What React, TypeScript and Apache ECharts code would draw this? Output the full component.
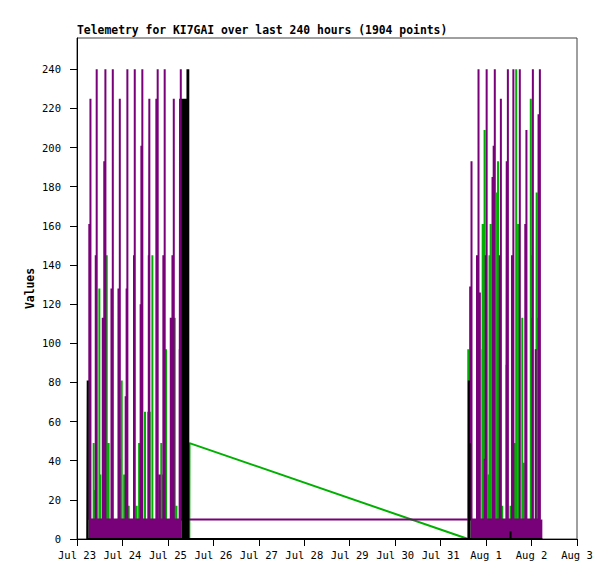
import React, { useEffect, useRef } from "react";
import * as echarts from "echarts";

// x values are hours since Jul 23 00:00
const xTickLabels = ["Jul 23", "Jul 24", "Jul 25", "Jul 26", "Jul 27", "Jul 28", "Jul 29", "Jul 30", "Jul 31", "Aug 1", "Aug 2", "Aug 3"];
const yTickValues = [0, 20, 40, 60, 80, 100, 120, 140, 160, 180, 200, 220, 240];

const titleText = "Telemetry for KI7GAI over last 240 hours (1904 points)";
const yAxisName = "Values";

// purple series: spikes above a base of 10 [hour, value]
const purpleSpikes: [number, number][] = [
  [6.5, 161], [7.1, 225], [9.9, 145], [10.4, 240], [13.6, 113], [14.4, 193], [15.0, 240],
  [18.2, 128], [18.9, 240], [21.9, 128], [22.6, 225], [25.7, 73], [26.2, 128], [26.6, 240],
  [30.1, 145], [30.5, 240], [33.6, 120], [34.0, 201], [34.5, 240], [37.9, 145], [38.2, 225],
  [41.9, 225], [42.6, 240], [43.7, 33], [45.6, 145], [46.3, 240], [49.5, 113], [50.4, 145],
  [51.1, 225], [54.2, 97], [54.4, 225], [54.8, 240],
  [207.6, 129], [208.3, 193], [211.2, 145], [212.0, 240], [212.7, 126], [215.3, 41], [215.8, 145],
  [216.3, 240], [219.4, 185], [220.0, 201], [220.6, 240], [223.2, 145], [223.8, 225], [226.7, 89],
  [226.9, 193], [227.5, 240], [229.7, 145], [230.4, 240], [233.8, 240], [236.7, 161], [237.3, 209],
  [240.5, 145], [240.7, 240], [242.2, 97], [243.7, 217], [244.4, 240],
];
const purpleBase = 10;
const purpleBlockLeft: [number, number][] = [[6.2, 10], [55.1, 10]];
const purpleBlockRight: [number, number][] = [[207.9, 10], [245.7, 10]];

// green series: spikes above 0 [hour, value]
const greenSpikesLeft: [number, number][] = [
  [8.8, 49], [9.6, 25], [11.8, 128], [12.3, 33], [15.7, 145], [16.7, 49], [23.3, 41], [23.6, 81],
  [24.9, 33], [27.3, 17], [31.5, 17], [32.8, 49], [35.9, 65], [37.6, 65], [38.4, 65], [39.8, 145],
  [43.7, 25], [44.5, 49], [45.4, 33], [47.0, 97], [51.6, 113], [52.5, 17],
];
const greenGap: [number, number][] = [[59.3, 0], [59.4, 49], [206.5, 0]];
const greenSpikesRight: [number, number][] = [
  [206.6, 97], [214.0, 97], [214.2, 161], [215.2, 209], [217.4, 33], [217.8, 145], [218.4, 161],
  [221.8, 177], [222.3, 193], [224.5, 17], [228.9, 17], [231.0, 49], [231.9, 240], [233.0, 161],
  [235.1, 113], [235.9, 39], [239.6, 225], [240.1, 113], [242.5, 97], [242.7, 177], [243.8, 113],
];

// black series
const blackSpikes: [number, number][] = [[5.65, 81], [206.9, 81], [207.3, 49], [228.9, 4]];
const blackStart = 5.4;
const blackEnd = 245.7;
const blackBlock: [number, number][] = [[55.1, 225], [57.8, 225], [57.8, 240], [59.3, 240]];

const PURPLE = "#780078";
const GREEN = "#00b000";
const BLACK = "#000000";
const MONO = "'DejaVu Sans Mono', 'Liberation Mono', monospace";

function spikeLine(spikes: [number, number][], base: number): [number, number][] {
  const out: [number, number][] = [];
  [...spikes].sort((a, b) => a[0] - b[0]).forEach(([h, v]) => {
    out.push([h, base], [h, v], [h, base]);
  });
  return out;
}

export default function App() {
  const ref = useRef<HTMLDivElement>(null);
  useEffect(() => {
    if (!ref.current) return;
    const chart = echarts.init(ref.current, null, { renderer: "svg" });

    const purpleData = spikeLine(purpleSpikes, purpleBase);
    const greenData = [
      ...spikeLine(greenSpikesLeft, 0),
      ...greenGap,
      ...spikeLine(greenSpikesRight, 0),
    ];
    const blackData: [number, number][] = [
      [blackStart, 0],
      ...spikeLine(blackSpikes, 0),
      [blackEnd, 0],
    ].sort((a, b) => a[0] - b[0]) as [number, number][];

    const base = {
      type: "line" as const,
      showSymbol: false,
      symbol: "none",
      silent: true,
      animation: false,
    };

    chart.setOption({
      animation: false,
      backgroundColor: "#ffffff",
      title: {
        text: titleText,
        left: 77,
        top: 23,
        padding: 0,
        textStyle: {
          fontFamily: MONO,
          fontWeight: "bold",
          fontSize: 11.4,
          color: "#000",
          lineHeight: 14,
        },
      },
      grid: {
        left: 77,
        right: 38,
        top: 38,
        bottom: 40,
        show: true,
        borderColor: "#404040",
        borderWidth: 1,
      },
      xAxis: {
        type: "value",
        min: 0,
        max: 264,
        interval: 24,
        axisLine: { show: true, onZero: false, lineStyle: { color: "#000", width: 1 } },
        axisTick: { show: true, length: 7, lineStyle: { color: "#000" } },
        axisLabel: {
          formatter: (v: number) => xTickLabels[Math.round(v / 24)] ?? "",
          margin: 10,
          color: "#000",
          fontFamily: MONO,
          fontSize: 10.5,
        },
        splitLine: { show: false },
      },
      yAxis: {
        type: "value",
        min: 0,
        max: 256,
        interval: 20,
        name: yAxisName,
        nameLocation: "middle",
        nameRotate: 90,
        nameGap: 42,
        nameMoveOverlap: false,
        nameTextStyle: { fontFamily: MONO, fontWeight: "bold", fontSize: 11.4, color: "#000" },
        axisLine: { show: true, onZero: false, lineStyle: { color: "#000", width: 1 } },
        axisTick: { show: true, length: 7, lineStyle: { color: "#000" }, customValues: yTickValues },
        axisLabel: {
          customValues: yTickValues,
          formatter: (v: number) => (v % 20 === 0 && v <= 240 ? String(v) : ""),
          margin: 16,
          color: "#000",
          fontFamily: MONO,
          fontSize: 10.5,
        },
        splitLine: { show: false },
      },
      series: [
        { ...base, name: "green", data: greenData, z: 2, lineStyle: { color: GREEN, width: 2 } },
        {
          ...base, name: "purpleBlockL", data: purpleBlockLeft, z: 3,
          lineStyle: { color: PURPLE, width: 0 }, areaStyle: { color: PURPLE, opacity: 1 },
        },
        {
          ...base, name: "purpleBlockR", data: purpleBlockRight, z: 3,
          lineStyle: { color: PURPLE, width: 0 }, areaStyle: { color: PURPLE, opacity: 1 },
        },
        { ...base, name: "purple", data: purpleData, z: 3, lineStyle: { color: PURPLE, width: 2 } },
        {
          ...base, name: "blackBlock", data: blackBlock, z: 4,
          lineStyle: { color: BLACK, width: 0 }, areaStyle: { color: BLACK, opacity: 1 },
        },
        { ...base, name: "black", data: blackData, z: 4, lineStyle: { color: BLACK, width: 2 } },
      ],
    });
    return () => chart.dispose();
  }, []);

  return (
    <div
      ref={ref}
      style={{ position: "absolute", left: 0, top: 0, width: 615, height: 579, background: "#fff" }}
    />
  );
}
